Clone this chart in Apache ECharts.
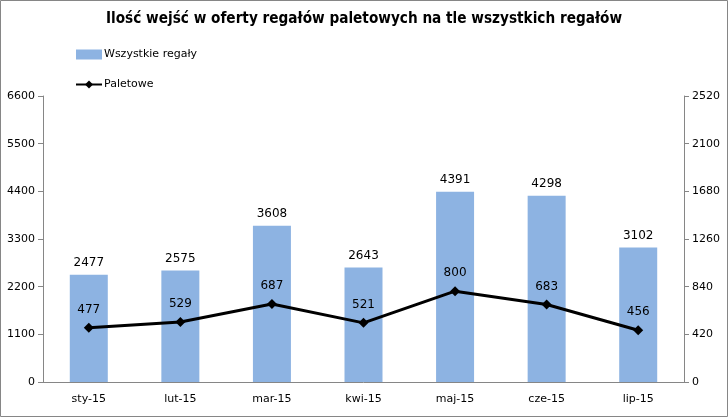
<!DOCTYPE html>
<html>
<head>
<meta charset="utf-8">
<script src="https://cdn.jsdelivr.net/npm/echarts@6/dist/echarts.min.js"></script>
<style>
  html, body { margin: 0; padding: 0; background: #fff; }
  #chart { width: 728px; height: 417px; }
</style>
</head>
<body>
<div id="chart"></div>
<script>
    // dane z wykresu
    var months = ['sty-15', 'lut-15', 'mar-15', 'kwi-15', 'maj-15', 'cze-15', 'lip-15'];
    var wszystkie = [2477, 2575, 3608, 2643, 4391, 4298, 3102];
    var paletowe = [477, 529, 687, 521, 800, 683, 456];

    var font = 'DejaVu Sans';
    var plain = function (v) { return String(v); };
    var myChart = echarts.init(document.getElementById('chart'));
    var option = {
        backgroundColor: '#fff',
        animation: false,
        title: {
            text: 'Ilość wejść w oferty regałów paletowych na tle wszystkich regałów',
            left: 'center',
            top: 7,
            textStyle: { fontFamily: "'DejaVu Sans Condensed', 'Liberation Sans'", fontWeight: 'bold', fontSize: 15.2, color: '#000' }
        },
        graphic: [{
            type: 'rect',
            shape: { x: 0.5, y: 0.5, width: 727, height: 416 },
            style: { fill: 'none', stroke: '#868686', lineWidth: 1 },
            silent: true
        }],
        legend: {
            orient: 'vertical',
            left: 70,
            top: 44,
            itemGap: 19,
            itemWidth: 26,
            itemHeight: 10,
            textStyle: { fontFamily: font, fontSize: 11, color: '#000', padding: [0, 0, 0, -3] },
            data: [
                { name: 'Wszystkie regały', icon: 'rect' },
                { name: 'Paletowe' }
            ]
        },
        grid: { left: 43, right: 44, top: 96, bottom: 35 },
        xAxis: {
            type: 'category',
            data: months,
            axisLine: { lineStyle: { color: '#868686' } },
            axisTick: { alignWithLabel: false, length: 5, lineStyle: { color: '#868686' } },
            axisLabel: { fontFamily: font, fontSize: 11, color: '#000', margin: 12 }
        },
        yAxis: [
            {
                type: 'value', min: 0, max: 6600, interval: 1100,
                splitLine: { show: false },
                axisLine: { show: true, lineStyle: { color: '#868686' } },
                axisTick: { show: true, length: 5, lineStyle: { color: '#868686' } },
                axisLabel: { fontFamily: font, fontSize: 11, color: '#000', margin: 8, formatter: plain }
            },
            {
                type: 'value', min: 0, max: 2520, interval: 420,
                splitLine: { show: false },
                axisLine: { show: true, lineStyle: { color: '#868686' } },
                axisTick: { show: true, length: 5, lineStyle: { color: '#868686' } },
                axisLabel: { fontFamily: font, fontSize: 11, color: '#000', margin: 8, formatter: plain }
            }
        ],
        series: [
            {
                name: 'Wszystkie regały',
                type: 'bar',
                data: wszystkie,
                barWidth: 38,
                itemStyle: { color: '#8db3e2' },
                label: { show: true, position: 'top', distance: 6, fontFamily: font, fontSize: 12, color: '#000' }
            },
            {
                name: 'Paletowe',
                type: 'line',
                yAxisIndex: 1,
                data: paletowe,
                symbol: 'diamond',
                symbolSize: 10,
                lineStyle: { color: '#000', width: 3 },
                itemStyle: { color: '#000' },
                label: { show: true, position: 'top', distance: 7, fontFamily: font, fontSize: 12, color: '#000' }
            }
        ]
    };
    myChart.setOption(option);
</script>
</body>
</html>
